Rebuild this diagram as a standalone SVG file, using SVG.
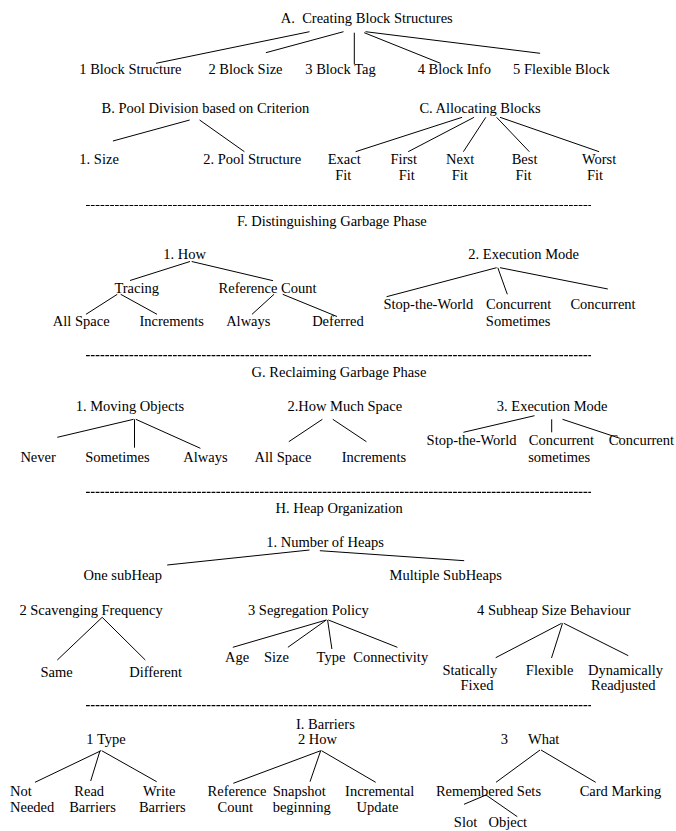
<svg xmlns="http://www.w3.org/2000/svg" width="676" height="831" viewBox="0 0 676 831">
<style>
text{font-family:"Liberation Serif","Times New Roman",serif;font-size:14.5px;fill:#000;text-anchor:middle}
text.l{text-anchor:start}
.c line{stroke:#000;stroke-width:1}
.sep line{stroke:#000;stroke-width:1.2;stroke-dasharray:3.8 1.03}
</style>
<rect width="676" height="831" fill="#fff"/>
<g class="sep" id="separators">
<line x1="86" y1="205.5" x2="591" y2="205.5"/>
<line x1="86" y1="355.7" x2="591" y2="355.7"/>
<line x1="86" y1="492.3" x2="591" y2="492.3"/>
<line x1="86" y1="705.7" x2="591" y2="705.7"/>
</g>
<g class="c" id="connectors">
<line x1="309.5" y1="31.7" x2="156" y2="63.3"/>
<line x1="343.5" y1="31.7" x2="265.9" y2="52.7"/>
<line x1="354.3" y1="32.7" x2="354.3" y2="64.3"/>
<line x1="364.2" y1="32.7" x2="440.5" y2="63.3"/>
<line x1="365.5" y1="31.7" x2="540.1" y2="53.3"/>
<line x1="189.7" y1="120" x2="112.9" y2="141"/>
<line x1="199.6" y1="120" x2="244.4" y2="151.7"/>
<line x1="462.1" y1="117.3" x2="355.6" y2="151.7"/>
<line x1="474.1" y1="117.3" x2="408.2" y2="151.7"/>
<line x1="485.8" y1="117.3" x2="463.4" y2="151.7"/>
<line x1="496.6" y1="117.3" x2="529.3" y2="151.7"/>
<line x1="500" y1="117.3" x2="599.1" y2="151.7"/>
<line x1="190" y1="261.5" x2="130" y2="280.5"/>
<line x1="191.7" y1="261.5" x2="273" y2="280.7"/>
<line x1="117.3" y1="294.3" x2="86" y2="314.3"/>
<line x1="120.7" y1="294.3" x2="157" y2="314.3"/>
<line x1="274" y1="294.3" x2="252" y2="314.3"/>
<line x1="282.7" y1="294.3" x2="337" y2="316.5"/>
<line x1="496.6" y1="267.7" x2="386.6" y2="296.7"/>
<line x1="497.8" y1="267.7" x2="507.3" y2="294.3"/>
<line x1="500" y1="267.7" x2="607.8" y2="289"/>
<line x1="133.6" y1="419.3" x2="57.3" y2="437.3"/>
<line x1="134.5" y1="419.3" x2="134.5" y2="447.7"/>
<line x1="135.8" y1="419.3" x2="200.4" y2="448.3"/>
<line x1="322.4" y1="419.3" x2="288.8" y2="441.7"/>
<line x1="332.8" y1="419.3" x2="366.4" y2="441.7"/>
<line x1="534.5" y1="415.7" x2="463.4" y2="432.3"/>
<line x1="551.7" y1="419.3" x2="551.7" y2="432.3"/>
<line x1="562.5" y1="419.3" x2="619.8" y2="438.3"/>
<line x1="309.5" y1="550" x2="167.2" y2="565"/>
<line x1="319.8" y1="550.7" x2="464.2" y2="560.7"/>
<line x1="102.2" y1="617.3" x2="57.3" y2="660"/>
<line x1="102.2" y1="617.3" x2="145.3" y2="660"/>
<line x1="326.3" y1="620" x2="232.8" y2="647.3"/>
<line x1="326.3" y1="620" x2="287.9" y2="647.3"/>
<line x1="327.6" y1="620" x2="331.9" y2="649"/>
<line x1="328.4" y1="620" x2="397.4" y2="647.3"/>
<line x1="561.6" y1="623.3" x2="495.7" y2="657.7"/>
<line x1="562.5" y1="623.3" x2="551.5" y2="658"/>
<line x1="563.8" y1="623.3" x2="628.3" y2="655.7"/>
<line x1="101" y1="750.7" x2="35" y2="782.3"/>
<line x1="100" y1="750.7" x2="90.7" y2="781"/>
<line x1="101.7" y1="750.7" x2="156.7" y2="781.7"/>
<line x1="320.7" y1="750.7" x2="233.3" y2="783.3"/>
<line x1="320.7" y1="750.7" x2="310" y2="781.7"/>
<line x1="321.5" y1="750.7" x2="375.7" y2="782.3"/>
<line x1="540" y1="750" x2="496" y2="782.3"/>
<line x1="541" y1="750" x2="595.7" y2="782.3"/>
<line x1="486" y1="795" x2="464" y2="804.3"/>
<line x1="486" y1="795" x2="517.3" y2="816.7"/>
</g>
<g id="nA"><text x="366.8" y="23" xml:space="preserve">A.  Creating Block Structures</text></g>
<g id="nA1"><text x="130.4" y="74">1 Block Structure</text></g>
<g id="nA2"><text x="245.5" y="74">2 Block Size</text></g>
<g id="nA3"><text x="340.5" y="74">3 Block Tag</text></g>
<g id="nA4"><text x="454.3" y="74">4 Block Info</text></g>
<g id="nA5"><text x="561.4" y="74">5 Flexible Block</text></g>
<g id="nB"><text x="205.4" y="113.3">B. Pool Division based on Criterion</text></g>
<g id="nC"><text x="480" y="113.3">C. Allocating Blocks</text></g>
<g id="nB1"><text x="99.1" y="164">1. Size</text></g>
<g id="nB2"><text x="252.2" y="164">2. Pool Structure</text></g>
<g id="nC1"><text x="344.2" y="164">Exact</text><text x="343.3" y="180">Fit</text></g>
<g id="nC2"><text x="403.7" y="164">First</text><text x="406.7" y="180">Fit</text></g>
<g id="nC3"><text x="460.1" y="164">Next</text><text x="459.7" y="180">Fit</text></g>
<g id="nC4"><text x="524.6" y="164">Best</text><text x="523.5" y="180">Fit</text></g>
<g id="nC5"><text x="599.1" y="164">Worst</text><text x="595" y="180">Fit</text></g>
<g id="nF"><text x="331.9" y="226">F. Distinguishing Garbage Phase</text></g>
<g id="nF1"><text x="184.7" y="259.3">1. How</text></g>
<g id="nF2"><text x="523.7" y="259.3">2. Execution Mode</text></g>
<g id="nF11"><text x="136.7" y="293.3">Tracing</text></g>
<g id="nF12"><text x="267.5" y="293.3">Reference Count</text></g>
<g id="nF111"><text x="81.2" y="326">All Space</text></g>
<g id="nF112"><text x="171.7" y="326">Increments</text></g>
<g id="nF121"><text x="248.3" y="326">Always</text></g>
<g id="nF122"><text x="337.9" y="326">Deferred</text></g>
<g id="nF21"><text x="428.4" y="309.3">Stop-the-World</text></g>
<g id="nF22"><text x="518.7" y="309.3">Concurrent</text><text x="518.1" y="326">Sometimes</text></g>
<g id="nF23"><text x="603" y="309.3">Concurrent</text></g>
<g id="nG"><text x="339" y="376.7">G. Reclaiming Garbage Phase</text></g>
<g id="nG1"><text x="129.9" y="410.7">1. Moving Objects</text></g>
<g id="nG2"><text x="344.8" y="410.7">2.How Much Space</text></g>
<g id="nG3"><text x="552.2" y="410.7">3. Execution Mode</text></g>
<g id="nG11"><text x="38.1" y="461.7">Never</text></g>
<g id="nG12"><text x="117.4" y="461.7">Sometimes</text></g>
<g id="nG13"><text x="205.4" y="461.7">Always</text></g>
<g id="nG21"><text x="283" y="461.7">All Space</text></g>
<g id="nG22"><text x="373.9" y="461.7">Increments</text></g>
<g id="nG31"><text x="471.5" y="445">Stop-the-World</text></g>
<g id="nG32"><text x="561.4" y="445">Concurrent</text><text x="559.2" y="461.7">sometimes</text></g>
<g id="nG33"><text x="641.4" y="445">Concurrent</text></g>
<g id="nH"><text x="339.2" y="513.3">H. Heap Organization</text></g>
<g id="nH1"><text x="325" y="546.7">1. Number of Heaps</text></g>
<g id="nH11"><text x="122.8" y="580">One subHeap</text></g>
<g id="nH12"><text x="445.7" y="580">Multiple SubHeaps</text></g>
<g id="nH2"><text x="91.1" y="615">2 Scavenging Frequency</text></g>
<g id="nH3"><text x="308.4" y="615">3 Segregation Policy</text></g>
<g id="nH4"><text x="553.8" y="615">4 Subheap Size Behaviour</text></g>
<g id="nH21"><text x="56.6" y="676.7">Same</text></g>
<g id="nH22"><text x="155.6" y="676.7">Different</text></g>
<g id="nH31"><text x="237.2" y="661.7">Age</text></g>
<g id="nH32"><text x="276.5" y="661.7">Size</text></g>
<g id="nH33"><text x="331" y="661.7">Type</text></g>
<g id="nH34"><text x="390.7" y="661.7">Connectivity</text></g>
<g id="nH41"><text x="469.8" y="675">Statically</text><text x="477" y="690">Fixed</text></g>
<g id="nH42"><text x="549.6" y="675">Flexible</text></g>
<g id="nH43"><text x="625.5" y="675">Dynamically</text><text x="623.3" y="690">Readjusted</text></g>
<g id="nI"><text class="l" x="296" y="728.5">I. Barriers</text></g>
<g id="nI1"><text x="106" y="744">1 Type</text></g>
<g id="nI2"><text x="317.5" y="743.5">2 How</text></g>
<g id="nI3"><text x="504.3" y="744">3</text><text x="543.7" y="744">What</text></g>
<g id="nI11"><text class="l" x="10" y="796">Not</text><text class="l" x="10" y="812.3">Needed</text></g>
<g id="nI12"><text x="89.2" y="796">Read</text><text x="92.5" y="812.3">Barriers</text></g>
<g id="nI13"><text x="159.2" y="796">Write</text><text x="162.3" y="812.3">Barriers</text></g>
<g id="nI21"><text x="237" y="796">Reference</text><text x="235.3" y="812.3">Count</text></g>
<g id="nI22"><text class="l" x="272.7" y="796">Snapshot</text><text class="l" x="272.7" y="812.3">beginning</text></g>
<g id="nI23"><text x="379.7" y="796">Incremental</text><text x="377.5" y="812.3">Update</text></g>
<g id="nI31"><text x="488.5" y="796">Remembered Sets</text></g>
<g id="nI32"><text x="620.5" y="796">Card Marking</text></g>
<g id="nI311"><text x="465.5" y="827.3">Slot</text></g>
<g id="nI312"><text x="507.8" y="827.3">Object</text></g>
</svg>
